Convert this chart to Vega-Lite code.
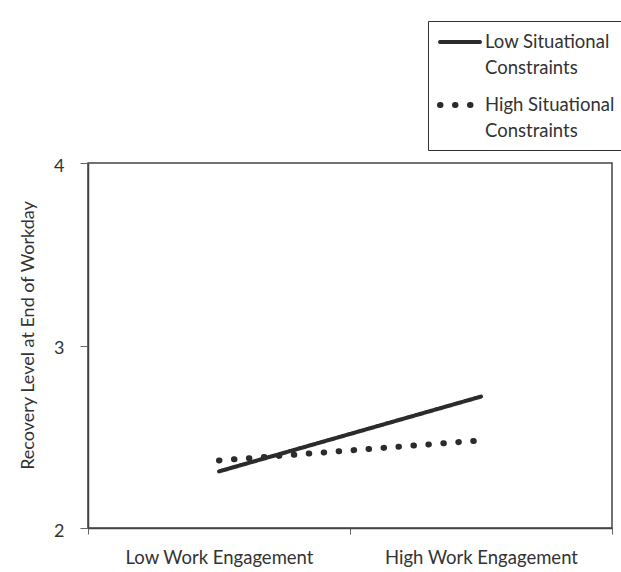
{
  "$schema": "https://vega.github.io/schema/vega-lite/v6.json",
  "width": 524,
  "height": 365,
  "autosize": "none",
  "padding": {"left": 88, "top": 163, "right": 9, "bottom": 44},
  "background": "white",
  "config": {
    "font": "Lato",
    "view": {"stroke": "#444", "strokeWidth": 1.5},
    "axis": {"grid": false, "labelColor": "#333", "titleColor": "#333", "domainColor": "#444", "tickColor": "#666", "domainWidth": 1.5}
  },
  "data": {
    "values": [
      {"constraints": "Low Situational Constraints", "engagement": "Low Work Engagement", "recovery": 2.31},
      {"constraints": "Low Situational Constraints", "engagement": "High Work Engagement", "recovery": 2.72},
      {"constraints": "High Situational Constraints", "engagement": "Low Work Engagement", "recovery": 2.37},
      {"constraints": "High Situational Constraints", "engagement": "High Work Engagement", "recovery": 2.48}
    ]
  },
  "mark": {"type": "line", "strokeCap": "round", "color": "#2b2b2b"},
  "encoding": {
    "x": {
      "field": "engagement",
      "type": "nominal",
      "sort": ["Low Work Engagement", "High Work Engagement"],
      "scale": {"type": "band", "paddingInner": 0, "paddingOuter": 0},
      "axis": {"title": null, "labelAngle": 0, "labelFontSize": 18.5, "labelLimit": 400, "labelPadding": 14, "tickBand": "extent", "tickSize": 6}
    },
    "y": {
      "field": "recovery",
      "type": "quantitative",
      "scale": {"domain": [2, 4], "nice": false, "zero": false},
      "axis": {"title": "Recovery Level at End of Workday", "values": [2, 3, 4], "labelExpr": "'' + round(datum.value)", "labelOverlap": false, "labelFlush": false, "labelFontSize": 18, "labelPadding": 16, "labelOffset": 3, "tickSize": 8, "titleFontSize": 18, "titleFontWeight": "normal", "titlePadding": 16, "titleY": 172}
    },
    "strokeDash": {
      "field": "constraints",
      "type": "nominal",
      "scale": {"domain": ["Low Situational Constraints", "High Situational Constraints"], "range": [[1, 0], [0.5, 14.5]]},
      "legend": {
        "title": null,
        "orient": "none",
        "legendX": 340,
        "legendY": -142,
        "fillColor": "white",
        "strokeColor": "#333",
        "padding": 9,
        "symbolType": "M-1,0H3",
        "symbolSize": 400,
        "symbolStrokeColor": "#2b2b2b",
        "symbolFillColor": "transparent",
        "symbolOffset": 0,
        "labelFontSize": 18.5,
        "labelColor": "#333",
        "labelOffset": 22,
        "labelLimit": 300,
        "rowPadding": 14,
        "labelExpr": "datum.label == 'Low Situational Constraints' ? ['Low Situational', 'Constraints'] : ['High Situational', 'Constraints']",
        "encode": {
          "symbols": {"update": {"strokeCap": {"value": "round"}}},
          "labels": {"update": {"lineHeight": {"value": 26}}}
        }
      }
    },
    "strokeWidth": {
      "field": "constraints",
      "type": "nominal",
      "scale": {"domain": ["Low Situational Constraints", "High Situational Constraints"], "range": [4, 6]},
      "legend": null
    }
  }
}
